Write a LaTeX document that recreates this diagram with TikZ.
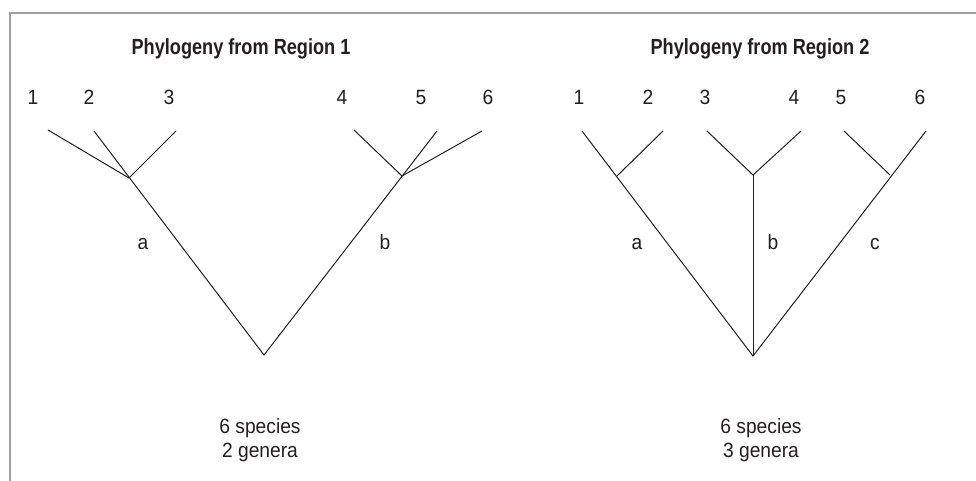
\documentclass[tikz,border=0pt]{standalone}
\usepackage{fontspec}
\setmainfont[FakeStretch=0.93]{Liberation Sans}
\newfontfamily\titlefont[FakeStretch=0.83]{Liberation Sans}
\definecolor{inkgray}{HTML}{231F20}
\begin{document}
\begin{tikzpicture}[x=0.75pt,y=-0.75pt,
    branch/.style={draw=inkgray,line width=0.75pt},
    taxon/.style={anchor=base,text=inkgray,inner sep=0pt,font=\fontsize{15.5}{18}\selectfont},
    treetitle/.style={anchor=base,text=inkgray,inner sep=0pt,font=\titlefont\fontsize{16.4}{19}\selectfont\bfseries}]
  \useasboundingbox (0,0) rectangle (976,481);
  \draw[gray!75,line width=0.9pt] (976,13) -- (10,13) -- (10,481);

  % region 1
  \node[treetitle] (title1) at (241,55) {Phylogeny from Region 1};
  \coordinate (root1) at (264,355);
  \coordinate (ga) at (129,178);
  \coordinate (gb) at (402,176);
  \foreach \n/\x/\y in {1/48/130,2/94/131,3/176/131,4/354/130,5/437/131,6/482/131}
    \coordinate (l\n) at (\x,\y);
  \foreach \n/\x in {1/33,2/89,3/169,4/342,5/421,6/488}
    \node[taxon] (t\n) at (\x,105) {\n};
  \draw[branch] (l2) -- (root1) -- (l5);
  \draw[branch] (l1) -- (ga) -- (l3);
  \draw[branch] (l4) -- (gb) -- (l6);
  \node[taxon] (na) at (143,250) {a};
  \node[taxon] (nb) at (385,250) {b};
  \node[taxon] (sp1) at (260,433) {6 species};
  \node[taxon] (ge1) at (260,457) {2 genera};

  % region 2
  \node[treetitle] (title2) at (760,55) {Phylogeny from Region 2};
  \coordinate (root2) at (753,356);
  \coordinate (ha) at (617,176);
  \coordinate (hb) at (753,175);
  \coordinate (hc) at (890,175);
  \foreach \n/\x in {1/582,2/663,3/707,4/801,5/844,6/926}
    \coordinate (r\n) at (\x,131);
  \foreach \n/\x in {1/579,2/648,3/705,4/794,5/841,6/920}
    \node[taxon] (u\n) at (\x,105) {\n};
  \draw[branch] (r1) -- (root2) -- (r6);
  \draw[branch] (ha) -- (r2);
  \draw[branch] (r3) -- (hb) -- (r4);
  \draw[branch] (hb) -- (root2);
  \draw[branch] (r5) -- (hc);
  \node[taxon] (ma) at (637,250) {a};
  \node[taxon] (mb) at (773,250) {b};
  \node[taxon] (mc) at (875,250) {c};
  \node[taxon] (sp2) at (761,433) {6 species};
  \node[taxon] (ge2) at (761,457) {3 genera};
\end{tikzpicture}
\end{document}
